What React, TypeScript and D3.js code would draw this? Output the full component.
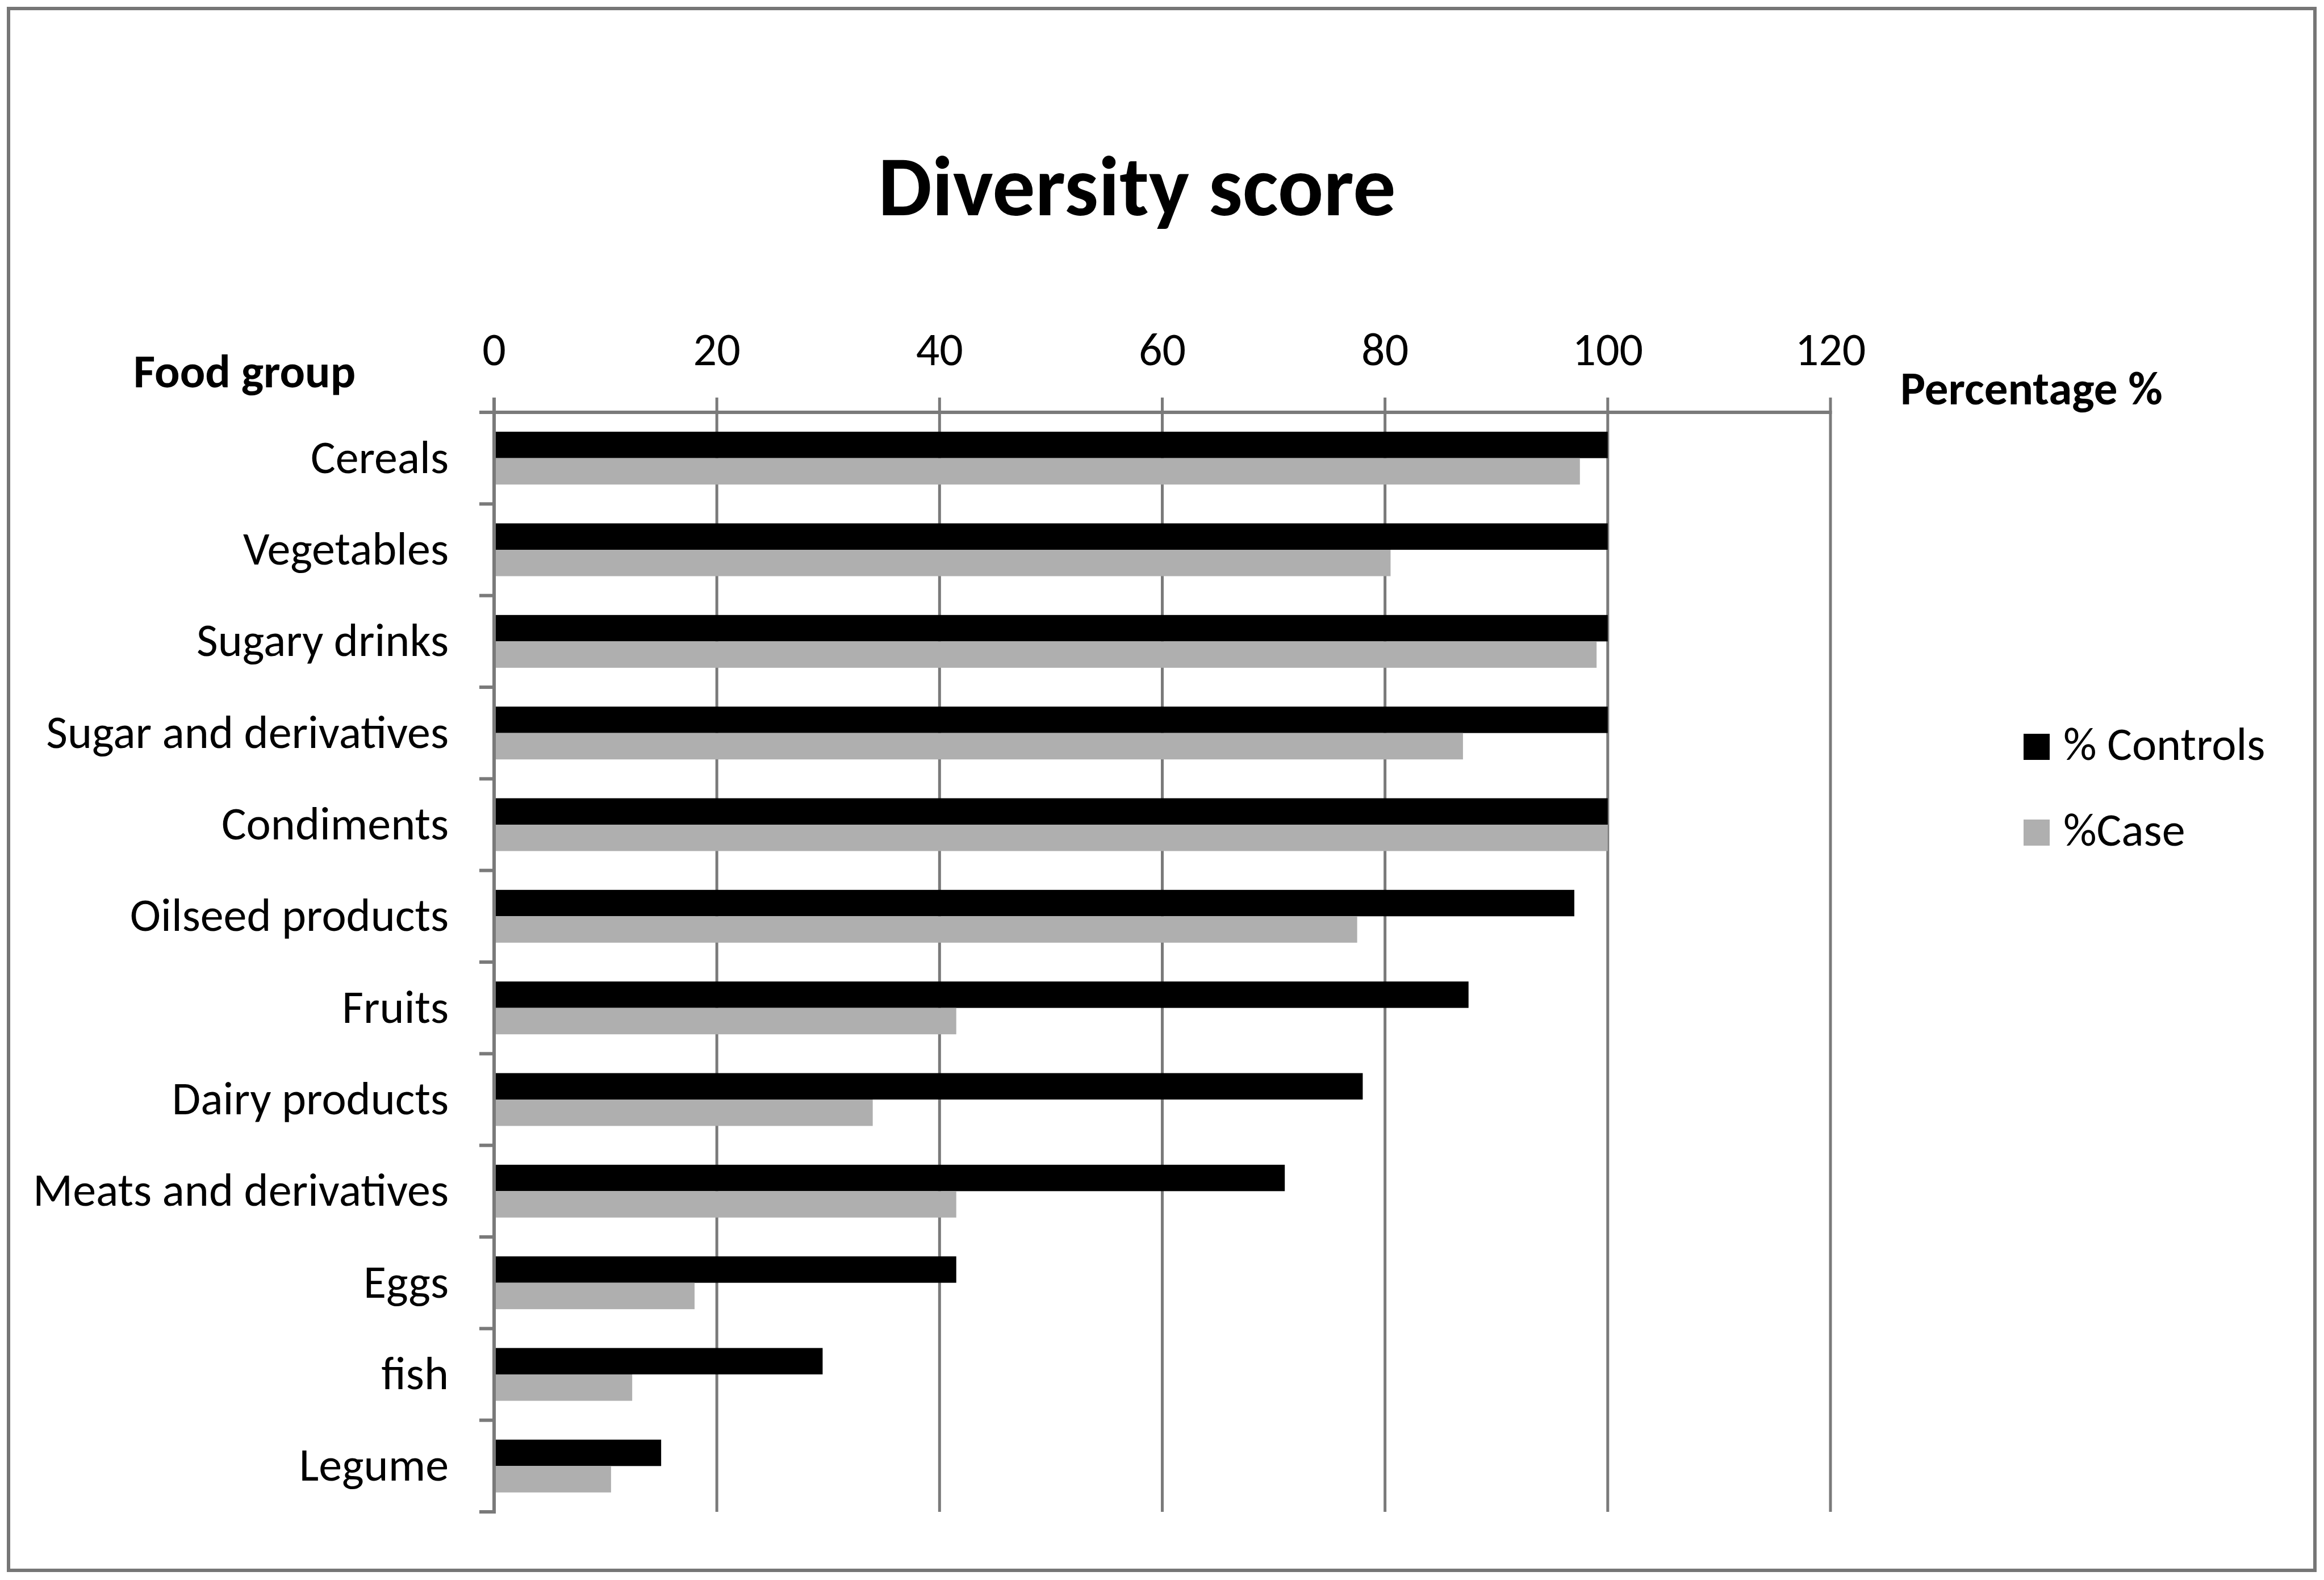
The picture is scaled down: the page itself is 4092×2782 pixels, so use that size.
import React from "react";
import * as d3 from "d3";

const categories = [
  "Cereals",
  "Vegetables",
  "Sugary drinks",
  "Sugar and derivatives",
  "Condiments",
  "Oilseed products",
  "Fruits",
  "Dairy products",
  "Meats and derivatives",
  "Eggs",
  "fish",
  "Legume",
];
const controls = [100, 100, 100, 100, 100, 97.0, 87.5, 78.0, 71.0, 41.5, 29.5, 15.0];
const cases = [97.5, 80.5, 99.0, 87.0, 100, 77.5, 41.5, 34.0, 41.5, 18.0, 12.4, 10.5];
const seriesNames = ["% Controls", "%Case"];
const seriesColors = ["#000000", "#afafaf"];
const xTicks = [0, 20, 40, 60, 80, 100, 120];

const W = 4092;
const H = 2782;
const FONT = "Carlito, Calibri, Lato, 'Open Sans', sans-serif";

export default function App() {
  const x = d3.scaleLinear().domain([0, 120]).range([870, 3223]);
  const y = d3.scaleBand<string>().domain(categories).range([726, 2662]).paddingInner(0).paddingOuter(0);
  const ySub = d3
    .scaleBand<string>()
    .domain(seriesNames)
    .range([0, y.bandwidth()])
    .paddingInner(0)
    .paddingOuter(0.735);
  const series = [controls, cases];
  const axisColor = "#7a7a7a";
  const catTicks = [...categories.map((c) => y(c) as number), 2662];
  const fs = 82;
  const fsb = 83;

  return (
    <svg
      width={W}
      height={H}
      style={{ position: "absolute", left: 0, top: 0, background: "#fff" }}
      fontFamily={FONT}
    >
      <rect x={0} y={0} width={W} height={H} fill="#fff" />
      <rect x={15} y={15} width={4076 - 15} height={2765 - 15} fill="none" stroke="#767676" strokeWidth={6} />

      <text x={2002} y={379} textAnchor="middle" fontSize={150} fontWeight="bold">
        Diversity score
      </text>

      {/* gridlines + top ticks */}
      {xTicks.map((t) => (
        <line key={"g" + t} x1={x(t)} x2={x(t)} y1={700} y2={2662} stroke={axisColor} strokeWidth={5} />
      ))}
      {/* top axis line */}
      <line x1={844} x2={x(120) + 2.5} y1={726} y2={726} stroke={axisColor} strokeWidth={6} />
      {/* category axis line */}
      <line x1={870} x2={870} y1={700} y2={2665} stroke={axisColor} strokeWidth={6} />
      {catTicks.map((v, i) => (
        <line key={"ct" + i} x1={844} x2={870} y1={v} y2={v} stroke={axisColor} strokeWidth={6} />
      ))}

      {/* bars */}
      {categories.map((c, i) =>
        series.map((s, k) => (
          <rect
            key={c + k}
            x={x(0) + 3}
            y={(y(c) as number) + (ySub(seriesNames[k]) as number)}
            width={x(s[i]) - x(0) - 3}
            height={ySub.bandwidth()}
            fill={seriesColors[k]}
          />
        ))
      )}

      {/* tick labels */}
      {xTicks.map((t) => (
        <text key={"tl" + t} x={x(t)} y={643} textAnchor="middle" fontSize={fs}>
          {t}
        </text>
      ))}

      {/* category labels */}
      {categories.map((c) => (
        <text
          key={"cl" + c}
          x={790}
          y={(y(c) as number) + y.bandwidth() / 2 + 26}
          textAnchor="end"
          fontSize={fs}
        >
          {c}
        </text>
      ))}

      {/* axis titles */}
      <text x={235} y={682} fontSize={fsb} fontWeight="bold">
        Food group
      </text>
      <text x={3346} y={712} fontSize={fsb} fontWeight="bold">
        Percentage %
      </text>

      {/* legend */}
      {seriesNames.map((n, k) => (
        <g key={"lg" + n}>
          <rect x={3563} y={1292 + k * 151} width={46} height={46} fill={seriesColors[k]} />
          <text x={3633} y={1338 + k * 151} fontSize={fs}>
            {n}
          </text>
        </g>
      ))}
    </svg>
  );
}
